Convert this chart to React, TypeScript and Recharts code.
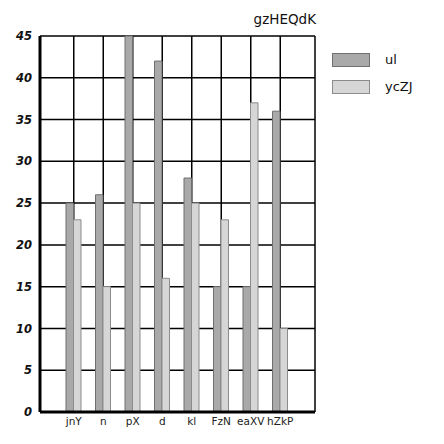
import React from "react";
import { Bar, BarChart, CartesianGrid, XAxis, YAxis } from "recharts";

const categories = ["jnY", "n", "pX", "d", "kl", "FzN", "eaXV", "hZkP"];
const ulValues = [25, 26, 45, 42, 28, 15, 15, 36];
const ycZJValues = [23, 15, 25, 16, 25, 23, 37, 10];
const yTicks = [0, 5, 10, 15, 20, 25, 30, 35, 40, 45];

const SERIES = [
  { key: "ul", fill: "#a9a9a9", stroke: "#6f6f6f" },
  { key: "ycZJ", fill: "#d6d6d6", stroke: "#8c8c8c" },
];

const data = categories.map((name, i) => ({
  name,
  ul: ulValues[i],
  ycZJ: ycZJValues[i],
}));

const FONT = "'DejaVu Sans', Verdana, sans-serif";

function LegendBox() {
  return (
    <div style={{ position: "absolute", left: 332, top: 46, fontFamily: FONT }}>
      {SERIES.map((s) => (
        <div key={s.key} style={{ display: "flex", alignItems: "center", height: 27 }}>
          <div
            style={{
              width: 36,
              height: 12,
              background: s.fill,
              border: `1px solid ${s.stroke}`,
            }}
          />
          <span style={{ marginLeft: 15, fontSize: 13, color: "#111" }}>{s.key}</span>
        </div>
      ))}
    </div>
  );
}

export default function App() {
  return (
    <div style={{ position: "absolute", left: 0, top: 0, width: 444, height: 444, background: "#fff" }}>
      <div
        style={{
          position: "absolute",
          right: 444 - 316,
          top: 11,
          fontFamily: FONT,
          fontSize: 13.5,
          color: "#111",
        }}
      >
        gzHEQdK
      </div>
      <LegendBox />
      <BarChart
        width={444}
        height={444}
        data={data}
        margin={{ top: 36, right: 129, left: 0, bottom: 0 }}
        barGap={0}
        barSize={7.5}
      >
        <CartesianGrid stroke="#000" strokeWidth={1.5} />
        <XAxis
          dataKey="name"
          height={32}
          padding={{ left: 19, right: 20 }}
          axisLine={{ stroke: "#000", strokeWidth: 3 }}
          tickLine={false}
          tickMargin={0}
          tick={{ fontSize: 10.5, fill: "#222", fontFamily: FONT }}
          interval={0}
        />
        <XAxis
          xAxisId="top"
          orientation="top"
          dataKey="name"
          height={0}
          tick={false}
          tickLine={false}
          axisLine={{ stroke: "#000", strokeWidth: 3 }}
        />
        <YAxis
          domain={[0, 45]}
          ticks={yTicks}
          width={40}
          axisLine={{ stroke: "#000", strokeWidth: 3 }}
          tickLine={false}
          tick={{ fontSize: 11.5, fill: "#111", fontFamily: FONT, fontWeight: "bold", fontStyle: "italic" }}
        />
        <YAxis
          yAxisId="right"
          orientation="right"
          domain={[0, 45]}
          width={0}
          tick={false}
          tickLine={false}
          axisLine={{ stroke: "#000", strokeWidth: 3 }}
        />
        {SERIES.map((s) => (
          <Bar
            key={s.key}
            dataKey={s.key}
            name={s.key}
            fill={s.fill}
            stroke={s.stroke}
            strokeWidth={1}
            isAnimationActive={false}
          />
        ))}
      </BarChart>
    </div>
  );
}
